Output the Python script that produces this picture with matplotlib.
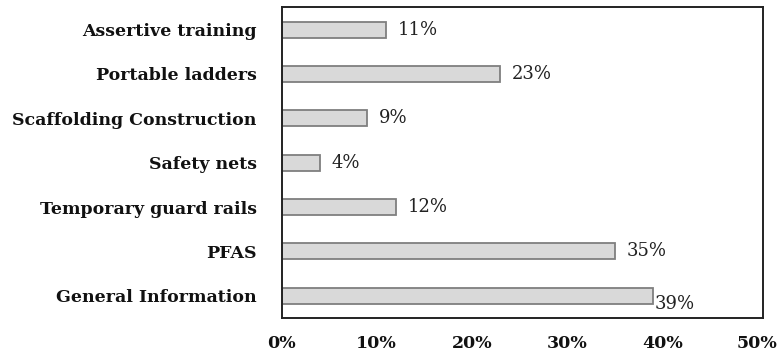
import matplotlib
matplotlib.use("Agg")
import matplotlib.pyplot as plt

categories = [
    "General Information",
    "PFAS",
    "Temporary guard rails",
    "Safety nets",
    "Scaffolding Construction",
    "Portable ladders",
    "Assertive training",
]
values = [39, 35, 12, 4, 9, 23, 11]
xticks = [0, 10, 20, 30, 40, 50]
xtick_labels = ["0%", "10%", "20%", "30%", "40%", "50%"]

plt.rcParams["font.family"] = ["DejaVu Serif"]

fig = plt.figure(figsize=(7.82, 3.52), dpi=100)
ax = fig.add_axes([0.36, 0.0966, 0.6157, 0.8826])

ypos = list(range(len(categories)))
ax.barh(ypos, values, height=0.36, color="#d9d9d9", edgecolor="#7f7f7f",
        linewidth=1.3, zorder=2)

ax.set_xlim(0, 50.6)
ax.set_ylim(-0.5, len(categories) - 0.5)

ax.set_yticks(ypos)
ax.set_yticklabels(categories, fontsize=12.5, fontweight="bold", color="#111111")
ax.set_xticks(xticks)
ax.set_xticklabels(xtick_labels, fontsize=12.5, fontweight="bold", color="#111111")
ax.tick_params(axis="both", length=0)
ax.tick_params(axis="y", pad=18)
ax.tick_params(axis="x", pad=12)

for s in ax.spines.values():
    s.set_color("#222222")
    s.set_linewidth(1.4)

vmax = max(values)
for y, v in zip(ypos, values):
    if v == vmax:
        # longest bar: label tucked just past the end, slightly below centre
        ax.annotate(f"{v}%", xy=(v, y), xytext=(1.5, -6), textcoords="offset points",
                    ha="left", va="center", fontsize=13, color="#222222")
    else:
        ax.annotate(f"{v}%", xy=(v, y), xytext=(8.5, 0), textcoords="offset points",
                    ha="left", va="center", fontsize=13, color="#222222")

fig.savefig("out.png", dpi=100)
